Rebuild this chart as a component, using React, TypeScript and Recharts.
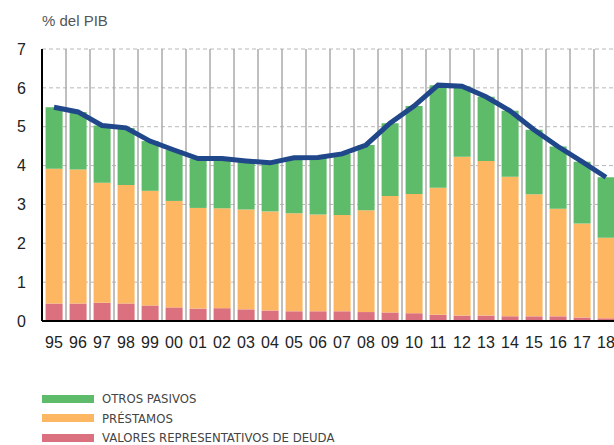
import React from "react";
import {
  ComposedChart,
  Bar,
  Line,
  XAxis,
  YAxis,
  CartesianGrid,
} from "recharts";

const years = ["95","96","97","98","99","00","01","02","03","04","05","06","07","08","09","10","11","12","13","14","15","16","17","18"];
const valores = [0.45,0.45,0.47,0.45,0.40,0.35,0.32,0.33,0.30,0.27,0.25,0.25,0.25,0.23,0.22,0.20,0.16,0.14,0.14,0.12,0.12,0.12,0.09,0.07];
const prestamos = [3.47,3.45,3.09,3.05,2.95,2.74,2.59,2.57,2.57,2.55,2.52,2.49,2.48,2.62,3.00,3.07,3.27,4.09,3.98,3.59,3.14,2.77,2.42,2.07];
const otros = [1.58,1.48,1.47,1.47,1.28,1.31,1.27,1.28,1.25,1.25,1.43,1.47,1.57,1.68,1.87,2.26,2.64,1.81,1.65,1.70,1.66,1.60,1.59,1.56];
const total = [5.50,5.38,5.03,4.97,4.63,4.40,4.18,4.18,4.12,4.07,4.20,4.21,4.30,4.53,5.09,5.53,6.07,6.04,5.77,5.41,4.92,4.49,4.10,3.70];
const yTicks = [0,1,2,3,4,5,6,7];

const COLORS = {
  otros: "#5dbb6a",
  prestamos: "#fdb763",
  valores: "#db717e",
  total: "#1f478a",
};

const data = years.map((y, i) => ({
  year: y,
  valores: valores[i],
  prestamos: prestamos[i],
  otros: otros[i],
  total: total[i],
}));

const legendItems = [
  { label: "OTROS PASIVOS", color: COLORS.otros },
  { label: "PRÉSTAMOS", color: COLORS.prestamos },
  { label: "VALORES REPRESENTATIVOS DE DEUDA", color: COLORS.valores },
];

const FONT = "'Liberation Sans', Arial, Helvetica, sans-serif";
const NARROW = "'Liberation Sans Narrow', 'DejaVu Sans Condensed', 'Liberation Sans', sans-serif";

export default function App() {
  return (
    <div style={{ position: "absolute", left: 0, top: 0, width: 614, height: 445, overflow: "hidden", background: "#fff" }}>
      <div style={{ position: "absolute", left: 42, top: 12, fontFamily: FONT, fontSize: 15, color: "#555" }}>
        % del PIB
      </div>
      <ComposedChart
        width={640}
        height={445}
        data={data}
        margin={{ top: 49, right: 22, bottom: 94, left: 0 }}
        barCategoryGap="15%"
      >
        <CartesianGrid
          stroke="#b8b8b8"
          strokeDasharray="4 3"
          vertical={false}
        />
        <CartesianGrid
          stroke="#aaaaaa"
          strokeWidth={1.5}
          horizontal={false}
          verticalCoordinatesGenerator={({ offset }: any) =>
            years.map((_, k) => offset.left + (offset.width * (k + 1)) / years.length)
          }
        />
        <XAxis
          dataKey="year"
          tickLine={false}
          tickSize={8}
          tickMargin={8}
          axisLine={{ stroke: "#000", strokeWidth: 2 }}
          tick={{ fontFamily: FONT, fontSize: 16, fill: "#222" }}
          interval={0}
          height={30}
        />
        <YAxis
          domain={[0, 7]}
          ticks={yTicks}
          width={42}
          tickLine={false}
          tickSize={8}
          tickMargin={8}
          axisLine={{ stroke: "#000", strokeWidth: 2 }}
          tick={{ fontFamily: FONT, fontSize: 16, fill: "#222" }}
          allowDataOverflow
        />
        <Bar dataKey="valores" stackId="a" fill={COLORS.valores} isAnimationActive={false} />
        <Bar dataKey="prestamos" stackId="a" fill={COLORS.prestamos} isAnimationActive={false} />
        <Bar dataKey="otros" stackId="a" fill={COLORS.otros} isAnimationActive={false} />
        <Line
          dataKey="total"
          type="linear"
          stroke={COLORS.total}
          strokeWidth={5}
          dot={false}
          activeDot={false}
          isAnimationActive={false}
        />
      </ComposedChart>
      <div style={{ position: "absolute", left: 42, top: 389, fontFamily: NARROW, fontSize: 13, color: "#444" }}>
        {legendItems.map((it) => (
          <div key={it.label} style={{ display: "flex", alignItems: "center", height: 19.5 }}>
            <span style={{ display: "inline-block", width: 52, height: 8, background: it.color, marginRight: 8 }} />
            <span>{it.label}</span>
          </div>
        ))}
      </div>
    </div>
  );
}
